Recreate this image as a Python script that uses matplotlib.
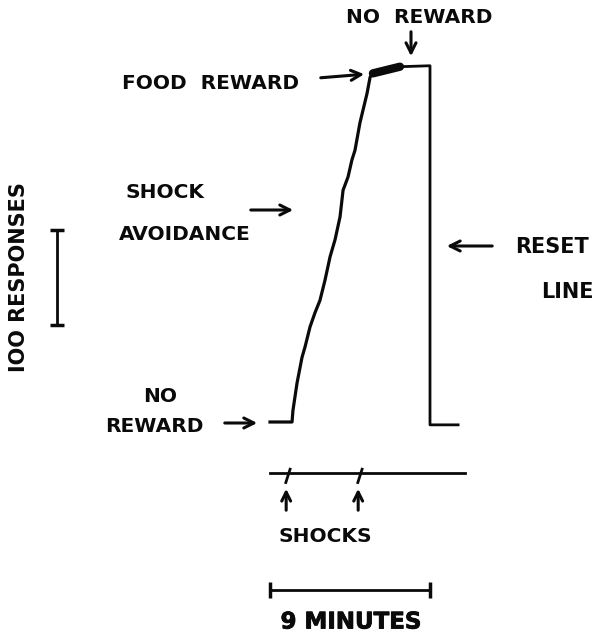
import matplotlib
matplotlib.use('Agg')
import numpy as np
import matplotlib.pyplot as plt
import matplotlib.patheffects as pe

# Cumulative record, time in minutes, cumulative responses
rise_time = [0.0, 1.24, 1.29, 1.52, 1.80, 1.97, 2.25, 2.53, 2.81, 3.09, 3.38,
             3.66, 3.94, 4.11, 4.39, 4.61, 4.78, 5.06, 5.46, 5.63, 5.79]
rise_resp = [0, 0, 12, 41, 68, 79, 100, 115, 128, 149, 174,
             192, 216, 244, 258, 276, 286, 315, 346, 363, 367]

# food reward period (thick pen mark)
food_time = [5.79, 7.31]
food_resp = [367, 374]

# no reward then reset
top_time = [7.31, 9.0, 9.0, 10.58]
top_resp = [374, 375, -3, -3]

# shock event line
shock_line_time = [0.0, 10.97]
shock_times = [1.01, 5.06]

scale_minutes = 9
scale_responses = 100

# pixel layout of the reference figure -> data units
X0, XS = 270, 160 / 9      # px at t=0, px per minute
Y0, YS = 422, 0.95         # px at 0 responses, px per response


def px(x, y):
    return ((x - X0) / XS, (Y0 - y) / YS)


fig = plt.figure(figsize=(6, 6.37), dpi=100)
ax = fig.add_axes([0, 0, 1, 1])
ax.set_xlim(px(0, 0)[0], px(600, 0)[0])
ax.set_ylim(px(0, 637)[1], px(0, 0)[1])
ax.axis('off')

ink = '#0a0a0a'
font = dict(family='DejaVu Sans', fontweight='bold', color=ink, fontsize=14.5)

# record
ax.plot(rise_time, rise_resp, color=ink, lw=2.3, solid_joinstyle='round')
ax.plot(food_time, food_resp, color=ink, lw=6, solid_capstyle='round')
ax.plot(top_time, top_resp, color=ink, lw=2.0)

# shock line with pips
shock_y = px(0, 473)[1]
ax.plot(shock_line_time, [shock_y, shock_y], color=ink, lw=2.0)
for st in shock_times:
    ax.plot([st + 0.12, st - 0.12], [shock_y + 4, shock_y - 10], color=ink, lw=2.0)
    ax.annotate('', xy=(st - 0.1, px(0, 486)[1]), xytext=(st - 0.1, px(0, 513)[1]),
                arrowprops=dict(arrowstyle='->', lw=2.2, color=ink, mutation_scale=16))

# scale bars
bar_y = px(0, 590)[1]
ax.errorbar([scale_minutes / 2], [bar_y], xerr=[scale_minutes / 2], color=ink,
            lw=2.0, capsize=6, capthick=2.5)
bar_x, bar_mid = px(57, 0)[0], px(0, 277)[1]
ax.errorbar([bar_x], [bar_mid], yerr=[scale_responses / 2], color=ink,
            lw=2.0, capsize=5, capthick=2.5)


def label(x, y, s, **kw):
    d = dict(font)
    d.update(kw)
    ax.text(*px(x, y), s, ha='center', va='center', **d)


def arrow(x1, y1, x2, y2):
    ax.annotate('', xy=px(x2, y2), xytext=px(x1, y1),
                arrowprops=dict(arrowstyle='->', lw=2.2, color=ink, mutation_scale=18))


label(419, 17, 'NO  REWARD')
arrow(411, 29, 411, 59)

label(211, 83, 'FOOD  REWARD')
arrow(318, 78, 367, 74)

label(165, 192, 'SHOCK')
label(185, 234, 'AVOIDANCE')
arrow(248, 210, 296, 210)

label(160, 397, 'NO')
label(154, 426, 'REWARD')
arrow(222, 423, 260, 423)

label(552, 247, 'RESET', fontsize=15)
label(567, 292, 'LINE', fontsize=15)
arrow(495, 246, 444, 246)

label(325, 537, 'SHOCKS')

label(351, 622, '9 MINUTES', fontsize=16.5,
      path_effects=[pe.withStroke(linewidth=0.6, foreground=ink)])

label(19, 277, 'IOO RESPONSES', rotation=90, fontsize=15)

fig.savefig('out.png', dpi=100)
